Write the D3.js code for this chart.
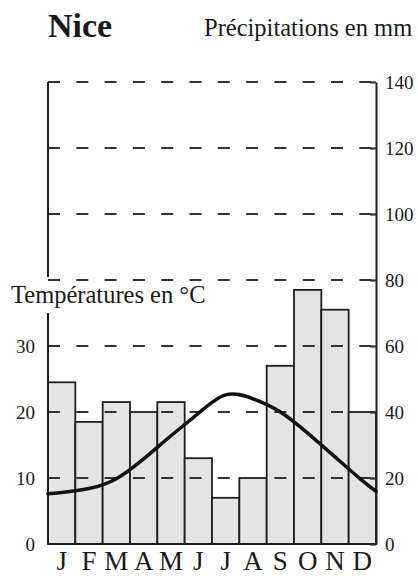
<!DOCTYPE html>
<html>
<head>
<meta charset="utf-8">
<script src="https://d3js.org/d3.v7.min.js"></script>
<style>
    body { margin: 0; background: #ffffff; }
    svg text { font-family: "Liberation Serif", "DejaVu Serif", serif; fill: #1a1a1a; }
</style>
</head>
<body>
<svg id="chart" width="418" height="576"></svg>
<script>
// climate data for Nice
let months = ["J", "F", "M", "A", "M", "J", "J", "A", "S", "O", "N", "D"];
let precipitation = [49, 37, 43, 40, 43, 26, 14, 20, 54, 77, 71, 40];
let temperature = [7.8, 8.4, 9.9, 12.9, 16.4, 19.8, 22.6, 22.0, 20.0, 16.8, 13.2, 9.6];
// temperature where the curve meets the left and right axes
let temperatureEdges = [7.6, 8.0];
let precipTicks = [0, 20, 40, 60, 80, 100, 120, 140];
let tempTicks = [0, 10, 20, 30];

let chart = d3.select("#chart");
let plotLeft = 48, plotRight = 376, plotTop = 82, plotBottom = 544;

// x scale: one band per month (index based, letters repeat)
let x = d3.scaleBand()
    .domain(d3.range(months.length))
    .range([plotLeft, plotRight])
    .padding(0);

// precipitation scale (right axis)
let yP = d3.scaleLinear()
    .domain([0, 140])
    .range([plotBottom, plotTop]);

// temperature scale (left axis), 10 degrees = 20 mm
let yT = d3.scaleLinear()
    .domain([0, 70])
    .range([plotBottom, plotTop]);

// bars
chart.selectAll("rect.bar")
    .data(precipitation)
    .enter()
    .append("rect")
    .attr("class", "bar")
    .attr("x", function(d, i) { return x(i); })
    .attr("y", function(d) { return yP(d); })
    .attr("width", x.bandwidth())
    .attr("height", function(d) { return yP(0) - yP(d); })
    .style("fill", "#e4e4e4")
    .style("stroke", "#1f1f1f")
    .style("stroke-width", 1.8);

// dashed grid lines, drawn over the bars
chart.selectAll("line.grid")
    .data(precipTicks.filter(function(d) { return d > 0; }))
    .enter()
    .append("line")
    .attr("class", "grid")
    .attr("x1", plotLeft)
    .attr("x2", plotRight)
    .attr("y1", function(d) { return yP(d); })
    .attr("y2", function(d) { return yP(d); })
    .style("stroke", "#333333")
    .style("stroke-width", 2.2)
    .style("stroke-dasharray", "12,16.3");

// baseline
chart.append("line")
    .attr("x1", plotLeft).attr("x2", plotRight)
    .attr("y1", plotBottom).attr("y2", plotBottom)
    .style("stroke", "#1f1f1f")
    .style("stroke-width", 2);

// right axis (precipitation)
let yAxisRight = d3.axisRight(yP)
    .tickValues(precipTicks)
    .tickSizeInner(-6)
    .tickSizeOuter(0)
    .tickPadding(9);
let rightGroup = chart.append("g")
    .attr("transform", "translate(" + plotRight + ",0)")
    .call(yAxisRight);
rightGroup.select(".domain").style("stroke", "#1f1f1f").style("stroke-width", 2);
rightGroup.selectAll(".tick line").style("stroke", "#333333").style("stroke-width", 2.2);
rightGroup.selectAll(".tick text")
    .style("font-family", "'Liberation Serif', serif")
    .style("font-size", "19px")
    .style("fill", "#1a1a1a");

// left axis (temperature), line broken around its title
let yAxisLeft = d3.axisLeft(yT)
    .tickValues(tempTicks)
    .tickSize(0)
    .tickPadding(13);
let leftGroup = chart.append("g")
    .attr("transform", "translate(" + plotLeft + ",0)")
    .call(yAxisLeft);
leftGroup.select(".domain").remove();
leftGroup.selectAll(".tick text")
    .style("font-family", "'Liberation Serif', serif")
    .style("font-size", "19px")
    .style("fill", "#1a1a1a");

chart.selectAll("line.leftaxis")
    .data([[plotTop, 277], [313, plotBottom]])
    .enter()
    .append("line")
    .attr("class", "leftaxis")
    .attr("x1", plotLeft).attr("x2", plotLeft)
    .attr("y1", function(d) { return d[0]; })
    .attr("y2", function(d) { return d[1]; })
    .style("stroke", "#1f1f1f")
    .style("stroke-width", 2);

// month letters
let xAxis = d3.axisBottom(x)
    .tickFormat(function(i) { return months[i]; })
    .tickSize(0)
    .tickPadding(0);
let xGroup = chart.append("g")
    .attr("transform", "translate(0," + plotBottom + ")")
    .call(xAxis);
xGroup.select(".domain").remove();
xGroup.selectAll(".tick text")
    .attr("dy", null)
    .attr("y", 26)
    .style("font-family", "'Liberation Serif', serif")
    .style("font-size", "27px")
    .style("fill", "#1a1a1a");

// temperature curve, from left axis to right axis
let points = [[plotLeft, temperatureEdges[0]]];
temperature.forEach(function(t, i) {
    points.push([x(i) + x.bandwidth() / 2, t]);
});
points.push([plotRight, temperatureEdges[1]]);

let line = d3.line()
    .x(function(d) { return d[0]; })
    .y(function(d) { return yT(d[1]); })
    .curve(d3.curveNatural);

chart.append("path")
    .datum(points)
    .attr("d", line)
    .style("fill", "none")
    .style("stroke", "#111111")
    .style("stroke-width", 3.5)
    .style("stroke-linecap", "round");

// titles
chart.append("text")
    .text("Nice")
    .attr("x", 48)
    .attr("y", 37)
    .style("font-size", "34px")
    .style("font-weight", "bold");

chart.append("text")
    .text("Précipitations en mm")
    .attr("x", 204)
    .attr("y", 36)
    .style("font-size", "24.5px");

chart.append("text")
    .text("Températures en °C")
    .attr("x", 11)
    .attr("y", 303)
    .style("font-size", "24.5px");
</script>
</body>
</html>
